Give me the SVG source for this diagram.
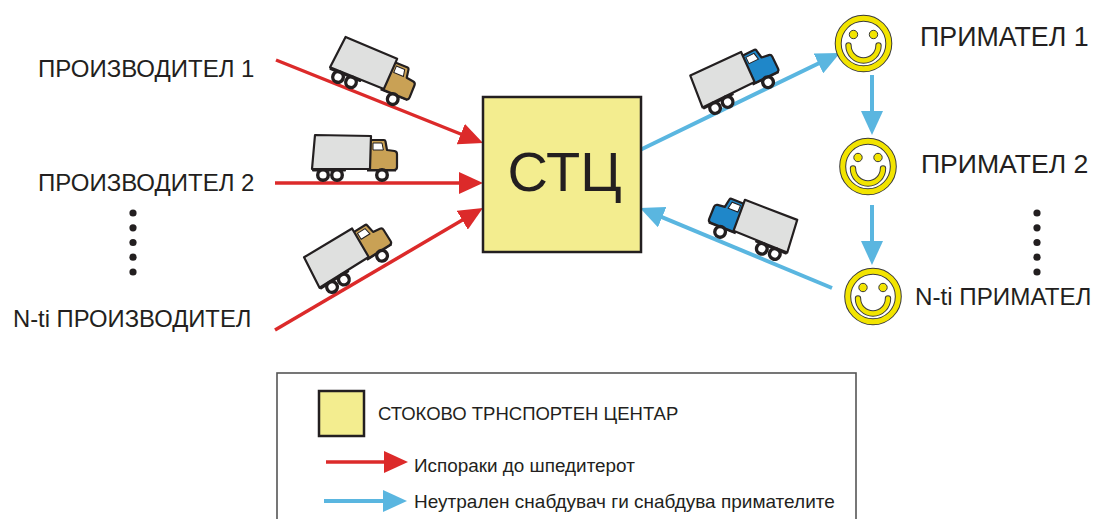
<svg xmlns="http://www.w3.org/2000/svg" xmlns:xlink="http://www.w3.org/1999/xlink" width="1095" height="519" viewBox="0 0 1095 519">
  <style>
    .lbl { font-family: "Liberation Sans", Arial, sans-serif; fill: #231f20; }
    .red { stroke: #dc2a2a; stroke-width: 3.5; fill: none; }
    .blue { stroke: #5ab6e0; stroke-width: 4; fill: none; }
    .hub { fill: #f3ed8f; stroke: #231f20; stroke-width: 2.5; }
    .dot { fill: #231f20; }
  </style>
  <defs>
    <marker id="headRed" markerUnits="userSpaceOnUse" markerWidth="24" markerHeight="22" refX="12" refY="11" orient="auto">
      <path d="M0,0 L24,11 L0,22 Z" fill="#dc2a2a"/>
    </marker>
    <marker id="headBlue" markerUnits="userSpaceOnUse" markerWidth="24" markerHeight="22" refX="12" refY="11" orient="auto">
      <path d="M0,0 L24,11 L0,22 Z" fill="#5ab6e0"/>
    </marker>
    <!-- side view of a delivery truck, facing right; the cab colour comes from the fill of the <use> -->
    <g id="truck">
      <rect x="0" y="31" width="34" height="5.5" rx="1" fill="#231f20"/>
      <line x1="55" y1="35" x2="84" y2="35" stroke="#231f20" stroke-width="3"/>
      <path d="M58,5 L72,5 Q73.2,5 73.5,6.5 L75,15 L82.5,16 Q85,16.5 85,19 L85,32 Q85,35 82,35 L57,35 Z" stroke="#231f20" stroke-width="2.2" stroke-linejoin="round"/>
      <path d="M61,8 L70,8 L71.4,15 L61,15 Z" fill="#ffffff" stroke="#231f20" stroke-width="1"/>
      <polygon points="3,0 59,1 58,34 0,34" fill="#dfe0df" stroke="#231f20" stroke-width="2.2" stroke-linejoin="round"/>
      <circle cx="11" cy="40" r="7" fill="#231f20"/>
      <circle cx="11" cy="40" r="3.6" fill="#ffffff"/>
      <circle cx="25" cy="40" r="7" fill="#231f20"/>
      <circle cx="25" cy="40" r="3.6" fill="#ffffff"/>
      <circle cx="70" cy="40" r="7" fill="#231f20"/>
      <circle cx="70" cy="40" r="3.6" fill="#ffffff"/>
    </g>
    <!-- smiley face centred on 0,0 -->
    <g id="smiley">
      <circle r="25.3" fill="#ffffff" stroke="#3a3a3a" stroke-width="7"/>
      <circle r="25.3" fill="none" stroke="#f2e400" stroke-width="5"/>
      <circle cx="-10" cy="-9" r="4.2" fill="#f2e400" stroke="#3a3a3a" stroke-width="1"/>
      <circle cx="10" cy="-9" r="4.2" fill="#f2e400" stroke="#3a3a3a" stroke-width="1"/>
      <path d="M-15,2 A15,15 0 0 0 15,2" fill="none" stroke="#3a3a3a" stroke-width="6.4" stroke-linecap="round"/>
      <path d="M-15,2 A15,15 0 0 0 15,2" fill="none" stroke="#f2e400" stroke-width="4.4" stroke-linecap="round"/>
    </g>
  </defs>

  <rect width="1095" height="519" fill="#ffffff"/>

  <!-- connectors -->
  <g id="connectors">
    <path class="red" d="M276,60 L471.9,138.5" marker-end="url(#headRed)"/>
    <path class="red" d="M275,183 L471,183" marker-end="url(#headRed)"/>
    <path class="red" d="M275,330 L472.6,214.1" marker-end="url(#headRed)"/>
    <path class="blue" d="M640,150 L829.2,58.2" marker-end="url(#headBlue)"/>
    <path class="blue" d="M832,288 L651.1,212.6" marker-end="url(#headBlue)"/>
    <path class="blue" d="M872,75 L872,123" marker-end="url(#headBlue)"/>
    <path class="blue" d="M872,205 L872,253" marker-end="url(#headBlue)"/>
  </g>

  <!-- trucks on the routes -->
  <g id="trucks">
    <use xlink:href="#truck" href="#truck" fill="#c9a155" transform="translate(342.8,35.8) rotate(22)"/>
    <use xlink:href="#truck" href="#truck" fill="#c9a155" transform="translate(312,135)"/>
    <use xlink:href="#truck" href="#truck" fill="#c9a155" transform="translate(301.5,258.9) rotate(-32)"/>
    <use xlink:href="#truck" href="#truck" fill="#1f87c9" transform="translate(687.6,76.9) rotate(-26)"/>
    <use xlink:href="#truck" href="#truck" fill="#1f87c9" transform="translate(800,221) rotate(22) scale(-1,1)"/>
  </g>

  <!-- producers -->
  <g id="producer-1">
    <text class="lbl" x="38" y="77" font-size="24">ПРОИЗВОДИТЕЛ 1</text>
  </g>
  <g id="producer-2">
    <text class="lbl" x="38" y="191" font-size="24">ПРОИЗВОДИТЕЛ 2</text>
  </g>
  <g id="producer-dots">
    <circle class="dot" cx="133" cy="213" r="3.6"/>
    <circle class="dot" cx="133" cy="227.8" r="3.6"/>
    <circle class="dot" cx="133" cy="242.5" r="3.6"/>
    <circle class="dot" cx="133" cy="257.2" r="3.6"/>
    <circle class="dot" cx="133" cy="272" r="3.6"/>
  </g>
  <g id="producer-n">
    <text class="lbl" x="13" y="327" font-size="23.8">N-ti ПРОИЗВОДИТЕЛ</text>
  </g>

  <!-- transport centre -->
  <g id="hub">
    <rect class="hub" x="483" y="97" width="158" height="155"/>
    <text class="lbl" x="564.5" y="191" font-size="56" text-anchor="middle">СТЦ</text>
  </g>

  <!-- receivers -->
  <g id="receiver-1">
    <use xlink:href="#smiley" href="#smiley" transform="translate(863.5,43.5)"/>
    <text class="lbl" x="920" y="46" font-size="26.8">ПРИМАТЕЛ 1</text>
  </g>
  <g id="receiver-2">
    <use xlink:href="#smiley" href="#smiley" transform="translate(868,166.5)"/>
    <text class="lbl" x="921" y="173" font-size="26.6">ПРИМАТЕЛ 2</text>
  </g>
  <g id="receiver-dots">
    <circle class="dot" cx="1037" cy="213" r="3.6"/>
    <circle class="dot" cx="1037" cy="227.8" r="3.6"/>
    <circle class="dot" cx="1037" cy="242.5" r="3.6"/>
    <circle class="dot" cx="1037" cy="257.2" r="3.6"/>
    <circle class="dot" cx="1037" cy="272" r="3.6"/>
  </g>
  <g id="receiver-n">
    <use xlink:href="#smiley" href="#smiley" transform="translate(873,296.5)"/>
    <text class="lbl" x="915" y="305" font-size="24.2">N-ti ПРИМАТЕЛ</text>
  </g>

  <!-- legend -->
  <g id="legend">
    <rect x="277" y="373" width="579" height="160" fill="#ffffff" stroke="#555555" stroke-width="1.6"/>
    <rect class="hub" x="319" y="391" width="45" height="45" stroke-width="3"/>
    <text class="lbl" x="378" y="420" font-size="18.5">СТОКОВО ТРНСПОРТЕН ЦЕНТАР</text>
    <path class="red" d="M326,462 L396,462" marker-end="url(#headRed)"/>
    <text class="lbl" x="414" y="472" font-size="18.9">Испораки до шпедитерот</text>
    <path class="blue" d="M324,501 L395,501" marker-end="url(#headBlue)"/>
    <text class="lbl" x="414" y="508" font-size="19">Неутрален снабдувач ги снабдува примателите</text>
  </g>
</svg>
